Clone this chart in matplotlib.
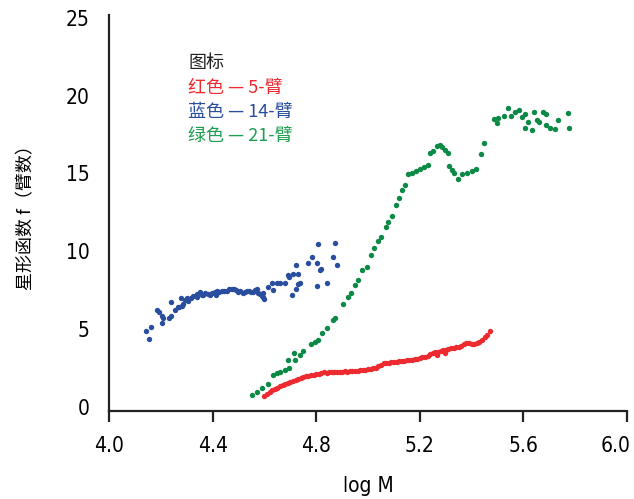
import matplotlib
matplotlib.use("Agg")
import matplotlib.pyplot as plt
from matplotlib.transforms import ScaledTranslation

# 5-arm star (red)
red_x = [4.60, 4.61, 4.62, 4.63, 4.64, 4.65, 4.66, 4.67, 4.68, 4.69,
         4.70, 4.71, 4.72, 4.73, 4.74, 4.75, 4.76, 4.77, 4.78, 4.79,
         4.80, 4.81, 4.82, 4.83, 4.84, 4.85, 4.86, 4.87, 4.88, 4.89,
         4.90, 4.91, 4.92, 4.93, 4.94, 4.95, 4.96, 4.97, 4.98, 4.99,
         5.00, 5.01, 5.02, 5.03, 5.04, 5.05, 5.06, 5.07, 5.08, 5.09,
         5.10, 5.11, 5.12, 5.13, 5.14, 5.15, 5.16, 5.17, 5.18, 5.19,
         5.20, 5.21, 5.22, 5.23, 5.24, 5.25, 5.26, 5.27, 5.28, 5.29,
         5.30, 5.31, 5.32, 5.33, 5.34, 5.35, 5.36, 5.37, 5.38, 5.39,
         5.40, 5.41, 5.42, 5.43, 5.44, 5.45, 5.46, 5.47, 5.297, 5.265]
red_y = [0.70, 0.82, 0.95, 1.05, 1.15, 1.22, 1.32, 1.38, 1.46, 1.52,
         1.58, 1.63, 1.72, 1.76, 1.84, 1.88, 1.94, 1.98, 2.03, 2.06,
         2.10, 2.12, 2.16, 2.19, 2.18, 2.21, 2.22, 2.24, 2.22, 2.25,
         2.24, 2.27, 2.25, 2.27, 2.29, 2.28, 2.31, 2.33, 2.36, 2.38,
         2.40, 2.43, 2.45, 2.50, 2.58, 2.70, 2.80, 2.78, 2.82, 2.84,
         2.86, 2.88, 2.90, 2.92, 2.94, 2.97, 2.99, 3.02, 3.05, 3.08,
         3.12, 3.16, 3.20, 3.28, 3.40, 3.44, 3.48, 3.52, 3.58, 3.62,
         3.66, 3.70, 3.74, 3.78, 3.82, 3.86, 3.90, 4.02, 4.10, 4.08,
         4.05, 4.02, 4.06, 4.16, 4.30, 4.45, 4.62, 4.85, 3.42, 3.30]

# 14-arm star (blue)
blue_x = [4.143, 4.161, 4.156, 4.184, 4.194, 4.203, 4.203, 4.210, 4.232, 4.239,
          4.239, 4.255, 4.268, 4.271, 4.281, 4.277, 4.287, 4.293, 4.300, 4.306,
          4.315, 4.325, 4.339, 4.339, 4.351, 4.358, 4.364, 4.371, 4.383, 4.390,
          4.397, 4.409, 4.413, 4.418, 4.426, 4.435, 4.444, 4.454, 4.464, 4.474,
          4.483, 4.490, 4.499, 4.506, 4.519, 4.525, 4.532, 4.542, 4.547, 4.555,
          4.564, 4.570, 4.576, 4.583, 4.590, 4.593, 4.596, 4.598, 4.615, 4.628,
          4.634, 4.647, 4.660, 4.680, 4.692, 4.696, 4.705, 4.712, 4.722, 4.722,
          4.731, 4.731, 4.737, 4.770, 4.783, 4.802, 4.804, 4.808, 4.815, 4.819,
          4.841, 4.866, 4.873, 4.879]
blue_y = [4.87, 5.09, 4.34, 6.20, 6.09, 5.82, 5.35, 5.67, 5.67, 5.84,
          6.70, 6.20, 6.38, 6.42, 6.46, 7.00, 6.63, 6.85, 6.96, 6.78,
          6.96, 7.11, 7.21, 7.06, 7.36, 7.17, 7.17, 7.28, 7.23, 7.17,
          7.28, 7.34, 7.17, 7.43, 7.38, 7.43, 7.41, 7.45, 7.54, 7.56,
          7.54, 7.49, 7.38, 7.43, 7.28, 7.38, 7.43, 7.45, 7.38, 7.38,
          7.49, 7.54, 7.32, 7.23, 7.11, 7.06, 7.28, 6.91, 7.67, 7.92,
          7.49, 7.92, 7.92, 7.96, 8.46, 8.35, 7.17, 8.50, 9.10, 7.54,
          8.50, 7.88, 7.92, 9.21, 9.64, 9.21, 7.75, 10.43, 8.78, 8.82,
          7.92, 9.64, 10.50, 9.10]

# 21-arm star (green)
green_x = [4.551, 4.570, 4.590, 4.613, 4.634, 4.647, 4.660, 4.680, 4.692, 4.696,
           4.715, 4.718, 4.737, 4.750, 4.780, 4.795, 4.806, 4.821, 4.841, 4.866,
           4.873, 4.905, 4.924, 4.934, 4.950, 4.963, 4.978, 4.995, 5.012, 5.024,
           5.040, 5.050, 5.068, 5.078, 5.092, 5.107, 5.120, 5.132, 5.143, 5.156,
           5.169, 5.185, 5.201, 5.217, 5.230, 5.239, 5.252, 5.265, 5.278, 5.287,
           5.297, 5.308, 5.313, 5.323, 5.333, 5.349, 5.362, 5.381, 5.400, 5.416,
           5.436, 5.449, 5.486, 5.497, 5.503, 5.525, 5.542, 5.551, 5.568, 5.584,
           5.594, 5.606, 5.606, 5.619, 5.632, 5.641, 5.651, 5.661, 5.677, 5.687,
           5.687, 5.703, 5.722, 5.735, 5.773, 5.776]
green_y = [0.73, 0.94, 1.20, 1.48, 2.02, 2.13, 2.23, 2.34, 2.98, 2.45,
           3.42, 2.98, 3.31, 3.58, 4.01, 4.16, 4.27, 4.74, 5.03, 5.60,
           5.67, 6.59, 7.06, 7.28, 7.81, 8.14, 8.78, 8.95, 9.75, 10.18,
           10.67, 10.88, 11.57, 11.89, 12.26, 12.96, 13.40, 13.93, 14.25, 14.94,
           15.01, 15.15, 15.26, 15.39, 15.54, 16.33, 16.46, 16.76, 16.83, 16.68,
           16.51, 16.29, 15.48, 15.22, 15.01, 14.62, 14.96, 15.04, 15.17, 15.26,
           16.25, 16.98, 18.50, 18.23, 18.55, 18.71, 19.19, 18.71, 18.97, 19.08,
           18.65, 18.80, 17.94, 18.29, 17.77, 18.93, 18.44, 18.29, 18.97, 18.80,
           18.12, 17.94, 17.86, 18.42, 18.87, 17.90]

legend_title = "图标"
legend_items = ["红色 — 5-臂", "蓝色 — 14-臂", "绿色 — 21-臂"]
x_ticks = [4.0, 4.4, 4.8, 5.2, 5.6, 6.0]
y_ticks = [0, 5, 10, 15, 20, 25]

RED = "#ED2A2F"
BLUE = "#2A4E9F"
GREEN = "#0B8A45"
GREEN_TXT = "#1E9E50"

plt.rcParams["font.family"] = ["DejaVu Sans", "Noto Sans CJK SC"]
plt.rcParams["font.stretch"] = "condensed"
plt.rcParams["axes.unicode_minus"] = False

fig = plt.figure(figsize=(6.34, 4.99), dpi=100)
ax = fig.add_axes([0.172, 0.176, 0.817, 0.794])

ax.scatter(red_x, red_y, s=15, color=RED, linewidths=0, zorder=3)
ax.scatter(blue_x, blue_y, s=15, color=BLUE, linewidths=0, zorder=3)
ax.scatter(green_x, green_y, s=15, color=GREEN, linewidths=0, zorder=3)

ax.set_xlim(4.0, 6.0)
ax.set_ylim(-0.3, 25.2)
ax.set_xticks(x_ticks)
ax.set_xticklabels([f"{v:.1f}" for v in x_ticks])
ax.set_yticks(y_ticks)
ax.tick_params(axis="x", direction="out", length=8, width=1.6, pad=10,
               labelsize=15, color="#222222")
ax.tick_params(axis="y", length=0, pad=14, labelsize=15)

# last x label sits a little inside the figure edge
last = ax.get_xticklabels()[-1]
last.set_transform(last.get_transform() + ScaledTranslation(-11 / 100, 0, fig.dpi_scale_trans))

for side in ("top", "right"):
    ax.spines[side].set_visible(False)
for side in ("left", "bottom"):
    ax.spines[side].set_linewidth(1.6)
    ax.spines[side].set_color("#222222")

cjk = ["Noto Sans CJK SC", "DejaVu Sans"]
ax.set_xlabel("log M", fontsize=15, labelpad=14)
ax.set_ylabel("星形函数 f（臂数）", fontsize=13, labelpad=22, family=cjk)

# legend block as coloured text
fig.text(188 / 634, 1 - 63 / 499, legend_title, fontsize=13, color="#222222",
         va="center", family=cjk)
for i, (label, c) in enumerate(zip(legend_items, [RED, BLUE, GREEN_TXT])):
    fig.text(188 / 634, 1 - (88 + 24 * i) / 499, label, fontsize=13, color=c,
             va="center", family=cjk)

fig.savefig("out.png", dpi=100)
